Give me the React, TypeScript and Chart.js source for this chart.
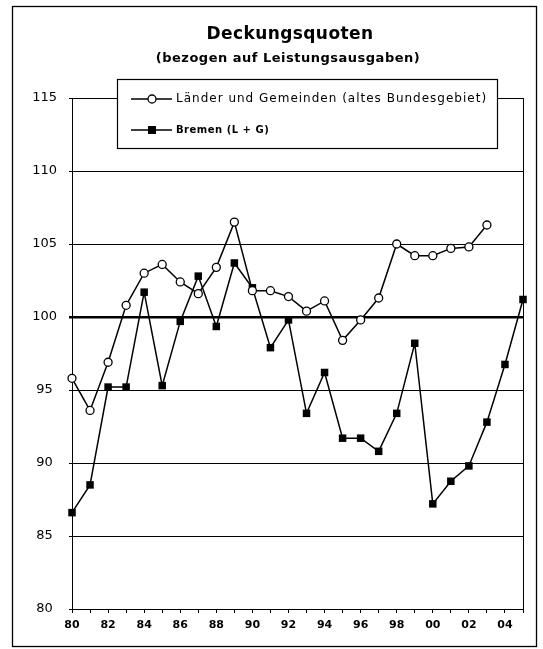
import React, { useEffect, useRef } from "react";
import { Chart, registerables } from "chart.js";

Chart.register(...registerables);

// ---- data ----
const years = [
  1980, 1981, 1982, 1983, 1984, 1985, 1986, 1987, 1988, 1989, 1990, 1991, 1992,
  1993, 1994, 1995, 1996, 1997, 1998, 1999, 2000, 2001, 2002, 2003, 2004, 2005,
];
const laenderValues = [
  95.8, 93.6, 96.9, 100.8, 103.0, 103.6, 102.4, 101.6, 103.4, 106.5, 101.8, 101.8,
  101.4, 100.4, 101.1, 98.4, 99.8, 101.3, 105.0, 104.2, 104.2, 104.7, 104.8, 106.3,
];
const bremenValues = [
  86.6, 88.5, 95.2, 95.2, 101.7, 95.3, 99.7, 102.8, 99.35, 103.7, 102.0, 97.9, 99.8,
  93.4, 96.2, 91.7, 91.7, 90.8, 93.4, 98.2, 87.2, 88.75, 89.8, 92.8, 96.75, 101.2,
];
const yTickValues = [80, 85, 90, 95, 100, 105, 110, 115];
const xLabelYears = [
  1980, 1982, 1984, 1986, 1988, 1990, 1992, 1994, 1996, 1998, 2000, 2002, 2004,
];
const titleText = "Deckungsquoten";
const subtitleText = "(bezogen auf Leistungsausgaben)";
const seriesNames = ["Länder und Gemeinden (altes Bundesgebiet)", "Bremen (L + G)"];

const W = 543;
const H = 649;

const decorPlugin = {
  id: "decor",
  afterDraw(chart: any) {
    const ctx = chart.ctx as CanvasRenderingContext2D;
    const a = chart.chartArea;
    ctx.save();
    ctx.strokeStyle = "#000";
    ctx.fillStyle = "#000";

    // outer frame
    ctx.lineWidth = 1.3;
    ctx.strokeRect(12.5, 6.5, 524, 640);

    // right plot border
    ctx.lineWidth = 1;
    ctx.beginPath();
    ctx.moveTo(a.right + 0.5, a.top);
    ctx.lineTo(a.right + 0.5, a.bottom);
    ctx.stroke();

    // title / subtitle
    ctx.textAlign = "center";
    ctx.textBaseline = "middle";
    (ctx as any).letterSpacing = "0.4px";
    ctx.font = 'bold 17px "DejaVu Sans"';
    ctx.fillText(titleText, 290, 35);
    (ctx as any).letterSpacing = "0.5px";
    ctx.font = 'bold 13px "DejaVu Sans"';
    ctx.fillText(subtitleText, 288, 59);

    // legend box
    ctx.fillStyle = "#fff";
    ctx.fillRect(117, 79, 380, 69);
    ctx.lineWidth = 1.2;
    ctx.strokeRect(117.5, 79.5, 380, 69);

    const y1 = 99;
    const y2 = 130;
    ctx.lineWidth = 1.5;
    ctx.beginPath();
    ctx.moveTo(131, y1);
    ctx.lineTo(172, y1);
    ctx.moveTo(131, y2);
    ctx.lineTo(172, y2);
    ctx.stroke();
    // circle marker
    ctx.fillStyle = "#fff";
    ctx.lineWidth = 1.3;
    ctx.beginPath();
    ctx.arc(152, y1, 4, 0, Math.PI * 2);
    ctx.fill();
    ctx.stroke();
    // square marker
    ctx.fillStyle = "#000";
    ctx.fillRect(148, y2 - 4, 8, 8);

    ctx.textAlign = "left";
    (ctx as any).letterSpacing = "1px";
    ctx.font = '12px "DejaVu Sans"';
    ctx.fillText(seriesNames[0], 176, y1);
    (ctx as any).letterSpacing = "0.5px";
    ctx.font = 'bold 10px "DejaVu Sans"';
    ctx.fillText(seriesNames[1], 176, y2);
    ctx.restore();
  },
};

export default function App() {
  const canvasRef = useRef<HTMLCanvasElement | null>(null);

  useEffect(() => {
    const canvas = canvasRef.current;
    if (!canvas) return;
    const chart = new Chart(canvas, {
      type: "line",
      data: {
        datasets: [
          {
            label: seriesNames[0],
            data: laenderValues.map((v, i) => ({ x: years[i], y: v })),
            borderColor: "#000",
            borderWidth: 1.5,
            pointStyle: "circle",
            pointRadius: 4,
            pointBackgroundColor: "#fff",
            pointBorderColor: "#000",
            pointBorderWidth: 1.3,
            tension: 0,
            clip: false as any,
          },
          {
            label: seriesNames[1],
            data: bremenValues.map((v, i) => ({ x: years[i], y: v })),
            borderColor: "#000",
            borderWidth: 1.5,
            pointStyle: "rect",
            pointRadius: 5.3,
            pointBackgroundColor: "#000",
            pointBorderColor: "#000",
            pointBorderWidth: 0,
            tension: 0,
            clip: false as any,
          },
        ],
      },
      options: {
        responsive: false,
        animation: false,
        devicePixelRatio: 1,
        layout: { padding: { top: 98, right: 20, bottom: 0, left: 0 } },
        plugins: {
          legend: { display: false },
          title: { display: false },
          tooltip: { enabled: false },
        },
        scales: {
          x: {
            type: "linear",
            min: years[0],
            max: years[years.length - 1],
            afterBuildTicks: (scale: any) => {
              scale.ticks = years.map((v) => ({ value: v }));
            },
            afterFit: (scale: any) => {
              scale.height = 40;
            },
            grid: {
              drawOnChartArea: false,
              drawTicks: true,
              tickLength: 4,
              color: "#000",
              lineWidth: 1,
            },
            border: { display: true, color: "#000", width: 1 },
            ticks: {
              autoSkip: false,
              maxRotation: 0,
              padding: 6,
              color: "#000",
              font: { family: "DejaVu Sans", size: 11, weight: "bold" },
              callback: (v: any) =>
                xLabelYears.includes(Number(v)) ? String(v).slice(2) : "",
            },
          },
          y: {
            type: "linear",
            min: yTickValues[0],
            max: yTickValues[yTickValues.length - 1],
            afterBuildTicks: (scale: any) => {
              scale.ticks = yTickValues.map((v) => ({ value: v }));
            },
            afterFit: (scale: any) => {
              scale.width = 72;
            },
            grid: {
              color: "#000",
              lineWidth: (c: any) => (c.tick && c.tick.value === 100 ? 2.5 : 1),
              tickLength: 3,
              drawTicks: true,
            },
            border: { display: true, color: "#000", width: 1 },
            ticks: {
              crossAlign: "center",
              padding: 12,
              color: "#000",
              font: { family: "DejaVu Sans", size: 13 },
              callback: (v: any) => String(v),
            },
          },
        },
      },
      plugins: [decorPlugin],
    });
    return () => chart.destroy();
  }, []);

  return (
    <div
      style={{
        position: "absolute",
        left: 0,
        top: 0,
        width: W,
        height: H,
        background: "#fff",
      }}
    >
      <canvas ref={canvasRef} width={W} height={H} style={{ display: "block" }} />
    </div>
  );
}
